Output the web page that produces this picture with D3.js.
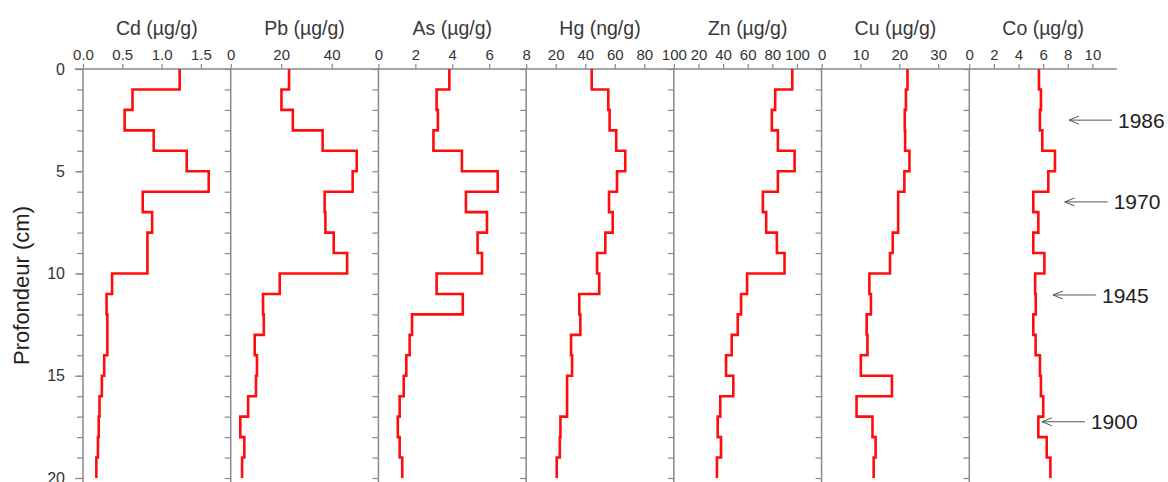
<!DOCTYPE html>
<html>
<head>
<meta charset="utf-8">
<script src="https://cdn.jsdelivr.net/npm/d3@7"></script>
<style>
  body { margin: 0; background: #fff; }
  text { font-family: "Liberation Sans", Arial, Helvetica, sans-serif; }
</style>
</head>
<body>
<svg id="chart" width="1168" height="482"></svg>
<script>
// Sediment core profile: trace-metal concentrations by depth slice (1 cm each)
const depthTop = [0, 1, 2, 3, 4, 5, 6, 7, 8, 9, 10, 11, 12, 13, 14, 15, 16, 17, 18, 19];

const elements = ["Cd", "Pb", "As", "Hg", "Zn", "Cu", "Co"];
const units    = ["µg/g", "µg/g", "µg/g", "ng/g", "µg/g", "µg/g", "µg/g"];
const domainMax = [1.88, 58.5, 8, 100, 120, 38, 12];

const cd = [1.23, 0.63, 0.53, 0.90, 1.32, 1.60, 0.76, 0.88, 0.82, 0.82,
            0.37, 0.30, 0.31, 0.31, 0.27, 0.24, 0.21, 0.20, 0.19, 0.17];
const pb = [23.1, 20.1, 24.6, 36.4, 49.9, 48.3, 37.2, 37.5, 40.8, 46.1,
            19.4, 12.8, 13.1, 9.5, 10.4, 10.0, 6.9, 3.8, 5.4, 4.5];
const as = [3.84, 3.15, 3.22, 2.98, 4.52, 6.46, 4.74, 5.88, 5.37, 5.61,
            3.15, 4.57, 1.82, 1.69, 1.51, 1.37, 1.15, 1.05, 1.15, 1.29];
const hg = [44.4, 55.6, 56.5, 61.0, 67.1, 61.5, 56.1, 58.6, 53.6, 48.0,
            49.5, 36.0, 36.7, 30.4, 31.1, 27.7, 27.7, 23.2, 22.8, 20.7];
const zn = [96.2, 82.3, 79.6, 84.5, 98.1, 84.5, 72.3, 75.0, 83.7, 89.9,
            59.5, 54.6, 51.9, 47.0, 42.4, 48.3, 37.7, 35.6, 38.3, 35.0];
const cu = [22.1, 21.7, 21.4, 21.5, 22.6, 21.3, 19.7, 19.7, 18.3, 17.6,
            12.3, 12.7, 11.6, 11.8, 10.1, 18.1, 9.0, 13.1, 13.9, 13.4];
const co = [5.66, 5.82, 5.74, 5.93, 6.96, 6.42, 5.20, 5.61, 5.20, 6.10,
            5.35, 5.40, 5.20, 5.39, 5.74, 5.82, 6.01, 5.61, 6.29, 6.59];
const series = [cd, pb, as, hg, zn, cu, co];

const cdTicks = [0, 0.5, 1.0, 1.5];
const pbTicks = [0, 20, 40];
const asTicks = [0, 2, 4, 6, 8];
const hgTicks = [20, 40, 60, 80, 100];
const znTicks = [20, 40, 60, 80, 100];
const cuTicks = [0, 10, 20, 30];
const coTicks = [0, 2, 4, 6, 8, 10];
const xTicks = [cdTicks, pbTicks, asTicks, hgTicks, znTicks, cuTicks, coTicks];

const depthTicks = [0, 5, 10, 15, 20];
const depthMinor = [0, 1, 2, 3, 4, 5, 6, 7, 8, 9, 10, 11, 12, 13, 14, 15, 16, 17, 18, 19, 20];

// Dated horizons marked beside the Co profile (depth in cm, arrow tip in Co units)
const years     = ["1986", "1970", "1945", "1900"];
const yearDepth = [2.5, 6.5, 11.05, 17.25];
const yearTipCo = [8.1, 7.75, 6.8, 5.9];

// ---- layout ----
const svg = d3.select("#chart");
const plotLeft = 83, plotRight = 1117, plotTop = 69, plotBottom = 478;
const axisColor = "#8a8a8a";
const textColor = "#333";

const panel = d3.scaleBand().domain(elements).range([plotLeft, plotRight]).padding(0);
const pw = panel.bandwidth();
const y = d3.scaleLinear().domain([0, 20]).range([plotTop, plotBottom]);

// top horizontal axis line spanning all panels
svg.append("line")
  .attr("x1", 75).attr("x2", plotRight)
  .attr("y1", plotTop).attr("y2", plotTop)
  .attr("stroke", axisColor).attr("stroke-width", 1.3);

elements.forEach((el, i) => {
  const x0 = panel(el);
  const x = d3.scaleLinear().domain([0, domainMax[i]]).range([x0, x0 + pw]);

  // vertical depth axis on the left side of each panel
  const ga = svg.append("g").attr("transform", `translate(${x0},0)`);
  ga.call(d3.axisLeft(y).tickValues(depthMinor).tickSize(6).tickSizeOuter(0).tickFormat(""));
  ga.select(".domain").attr("stroke", axisColor).attr("stroke-width", 1.5)
    .attr("d", `M0,${plotTop}V482`);
  ga.selectAll(".tick line").attr("stroke", axisColor).attr("stroke-width", 1.2);

  // concentration axis along the top
  const fmt = el === "Cd" ? d3.format(".1f") : d3.format("d");
  const gt = svg.append("g").attr("transform", `translate(0,${plotTop})`);
  gt.call(d3.axisTop(x).tickValues(xTicks[i]).tickSize(5).tickPadding(4).tickFormat(fmt));
  gt.select(".domain").remove();
  gt.selectAll(".tick line").attr("stroke", axisColor).attr("stroke-width", 1.2);
  gt.selectAll(".tick text").attr("fill", textColor).attr("font-size", 15)
    .attr("font-family", "'Liberation Sans', Arial, sans-serif");

  // panel title
  svg.append("text")
    .attr("x", x0 + pw / 2).attr("y", 34.5)
    .attr("text-anchor", "middle")
    .attr("font-size", 19.5).attr("fill", "#3a3a3a")
    .text(`${el} (${units[i]})`);

  // stepped profile: constant value over each 1 cm slice
  const pts = [];
  series[i].forEach((v, k) => {
    pts.push([v, depthTop[k]]);
    pts.push([v, depthTop[k] + 1]);
  });
  svg.append("path")
    .datum(pts)
    .attr("fill", "none")
    .attr("stroke", "#ff0d0d")
    .attr("stroke-width", 2.6)
    .attr("stroke-linejoin", "miter")
    .attr("d", d3.line().x(d => x(d[0])).y(d => y(d[1])));

  if (el === "Co") {
    years.forEach((yr, j) => {
      const tipX = x(yearTipCo[j]);
      const yy = y(yearDepth[j]);
      const g = svg.append("g").attr("stroke", "#555").attr("stroke-width", 1).attr("fill", "none");
      g.append("line").attr("x1", tipX).attr("x2", tipX + 43).attr("y1", yy).attr("y2", yy);
      g.append("path").attr("d", `M${tipX + 10},${yy - 4}L${tipX},${yy}L${tipX + 10},${yy + 4}`);
      svg.append("text")
        .attr("x", tipX + 49).attr("y", yy).attr("dy", "0.36em")
        .attr("font-size", 21).attr("fill", "#222")
        .text(yr);
    });
  }
});

// depth labels on the first panel
const gl = svg.append("g").attr("transform", `translate(${plotLeft},0)`);
gl.call(d3.axisLeft(y).tickValues(depthTicks).tickSize(8).tickPadding(10));
gl.select(".domain").remove();
gl.selectAll(".tick line").attr("stroke", axisColor).attr("stroke-width", 1.2);
gl.selectAll(".tick text").attr("fill", textColor).attr("font-size", 16)
  .attr("font-family", "'Liberation Sans', Arial, sans-serif");

// depth axis title
svg.append("text")
  .attr("transform", `translate(29,${(plotTop + plotBottom) / 2 + 12}) rotate(-90)`)
  .attr("text-anchor", "middle")
  .attr("font-size", 22).attr("fill", "#222")
  .text("Profondeur (cm)");
</script>
</body>
</html>
